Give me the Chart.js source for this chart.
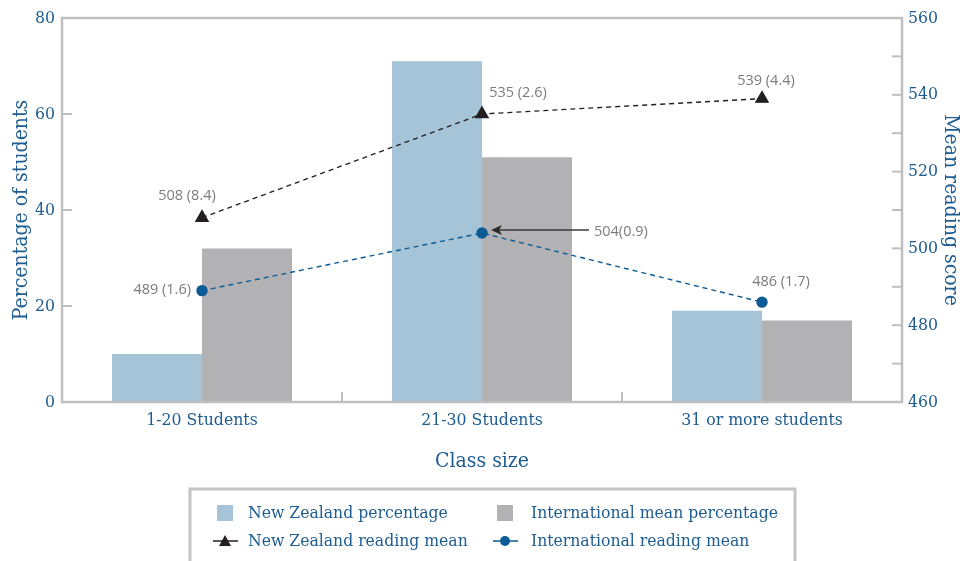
<!DOCTYPE html>
<html><head><meta charset="utf-8">
<script src="https://cdn.jsdelivr.net/npm/chart.js@4.4.1/dist/chart.umd.min.js"></script>
<style>html,body{margin:0;padding:0;background:#fff}#wrap{width:973px;height:561px;position:relative}</style>
</head><body><div id="wrap"><canvas id="c"></canvas></div>
<script>
const categories = ['1-20 Students', '21-30 Students', '31 or more students'];
const nzPercentage = [10, 71, 19];
const intlPercentage = [32, 51, 17];
const nzReadingMean = [508, 535, 539];
const intlReadingMean = [489, 504, 486];
const nzReadingLabels = ['508 (8.4)', '535 (2.6)', '539 (4.4)'];
const intlReadingLabels = ['489 (1.6)', '504(0.9)', '486 (1.7)'];
const percentRange = [0, 80];
const scoreRange = [460, 560];

const BLUE_TEXT = '#1d5c91';
const SERIF = '"DejaVu Serif Condensed", "DejaVu Serif", serif';
const SANS = '"Open Sans", "Noto Sans", sans-serif';
const FRAME = '#bfbfc1';

// label offsets relative to point pixel: [dx, dy, align]
const nzLabelPos = [[-15, -22, 'center'], [36, -21, 'center'], [4, -18, 'center']];
const intlLabelPos = [[-11, -1, 'right'], [112, -1, 'left'], [19, -20, 'center']];

const framePlugin = {
  id: 'frame',
  afterDatasetsDraw(chart) {
    const { ctx, chartArea: a, scales } = chart;
    const ys = scales.y, y2 = scales.y2, xs = scales.x;
    ctx.save();
    ctx.strokeStyle = FRAME;
    ctx.lineWidth = 2.5;
    ctx.strokeRect(a.left, a.top, a.right - a.left, a.bottom - a.top);
    ctx.lineWidth = 2;
    const seg = (x1, y1, x2, yy2) => { ctx.beginPath(); ctx.moveTo(x1, y1); ctx.lineTo(x2, yy2); ctx.stroke(); };
    ys.ticks.forEach(t => {
      if (t.value > ys.min && t.value < ys.max) { const p = ys.getPixelForValue(t.value); seg(a.left, p, a.left + 10, p); }
    });
    const rt = y2.ticks.map(t => t.value);
    for (let i = 0; i < rt.length; i++) {
      if (rt[i] > y2.min && rt[i] < y2.max) { const p = y2.getPixelForValue(rt[i]); seg(a.right, p, a.right - 10, p); }
      if (i < rt.length - 1) { const p = y2.getPixelForValue((rt[i] + rt[i + 1]) / 2); seg(a.right, p, a.right - 10, p); }
    }
    for (let i = 0; i < categories.length - 1; i++) {
      const p = (xs.getPixelForValue(i) + xs.getPixelForValue(i + 1)) / 2;
      seg(p, a.bottom, p, a.bottom - 10);
    }
    // value labels
    ctx.font = '14.5px ' + SANS;
    ctx.fillStyle = '#7c7c7c';
    ctx.textBaseline = 'middle';
    const m2 = chart.getDatasetMeta(2), m3 = chart.getDatasetMeta(3);
    m2.data.forEach((pt, i) => {
      const o = nzLabelPos[i]; ctx.textAlign = o[2];
      ctx.fillText(nzReadingLabels[i], pt.x + o[0], pt.y + o[1]);
    });
    m3.data.forEach((pt, i) => {
      const o = intlLabelPos[i]; ctx.textAlign = o[2];
      ctx.fillText(intlReadingLabels[i], pt.x + o[0], pt.y + o[1]);
    });
    // arrow to the middle international point
    const ap = m3.data[1];
    ctx.strokeStyle = '#3a3a3a'; ctx.fillStyle = '#2a2a2a'; ctx.lineWidth = 1.5;
    const tip = ap.x + 9, ay = ap.y - 3;
    seg(ap.x + 107, ay, tip + 8, ay);
    ctx.beginPath(); ctx.moveTo(tip, ay); ctx.lineTo(tip + 11, ay - 5); ctx.lineTo(tip + 8, ay); ctx.lineTo(tip + 11, ay + 5); ctx.closePath(); ctx.fill();
    ctx.restore();
  },
  afterDraw(chart) {
    const { ctx } = chart;
    ctx.save();
    ctx.strokeStyle = '#c4c4c6'; ctx.lineWidth = 3;
    ctx.strokeRect(190, 489, 605, 100);
    const ds = chart.data.datasets;
    const cols = [225, 505], rows = [513, 541];
    ctx.font = '17.4px ' + SERIF; ctx.textBaseline = 'middle'; ctx.textAlign = 'left';
    ds.forEach((d, i) => {
      const cx = cols[i % 2], cy = rows[Math.floor(i / 2)];
      if (d.type === 'bar') {
        ctx.fillStyle = d.backgroundColor; ctx.fillRect(cx - 8, cy - 8, 16, 16);
      } else {
        ctx.strokeStyle = d.borderColor; ctx.lineWidth = 1.5;
        ctx.beginPath(); ctx.moveTo(cx - 12, cy); ctx.lineTo(cx + 13, cy); ctx.stroke();
        ctx.fillStyle = d.pointBackgroundColor;
        ctx.beginPath();
        if (d.pointStyle === 'triangle') { ctx.moveTo(cx, cy - 6); ctx.lineTo(cx + 6, cy + 5); ctx.lineTo(cx - 6, cy + 5); ctx.closePath(); }
        else { ctx.arc(cx, cy, 5, 0, Math.PI * 2); }
        ctx.fill();
      }
      ctx.fillStyle = BLUE_TEXT;
      ctx.fillText(d.label, cx + 23 + (i % 2 ? 3 : 0), cy);
    });
    ctx.restore();
  }
};

new Chart(document.getElementById('c'), {
  type: 'bar',
  data: {
    labels: categories,
    datasets: [
      { type: 'bar', label: 'New Zealand percentage', data: nzPercentage, backgroundColor: '#a6c4d7', yAxisID: 'y', order: 2, categoryPercentage: 0.643, barPercentage: 1 },
      { type: 'bar', label: 'International mean percentage', data: intlPercentage, backgroundColor: '#b2b2b4', yAxisID: 'y', order: 2, categoryPercentage: 0.643, barPercentage: 1 },
      { type: 'line', label: 'New Zealand reading mean', data: nzReadingMean, yAxisID: 'y2', order: 1, borderColor: '#231f20', borderWidth: 1.4, borderDash: [5, 4], pointStyle: 'triangle', pointRadius: 7, pointBackgroundColor: '#231f20', pointBorderColor: '#231f20', fill: false, tension: 0 },
      { type: 'line', label: 'International reading mean', data: intlReadingMean, yAxisID: 'y2', order: 1, borderColor: '#0d5b94', borderWidth: 1.4, borderDash: [5, 4], pointStyle: 'circle', pointRadius: 5, pointBackgroundColor: '#0d5b94', pointBorderColor: '#0d5b94', fill: false, tension: 0 }
    ]
  },
  options: {
    responsive: true, maintainAspectRatio: false, animation: false, devicePixelRatio: 1,
    layout: { padding: { top: 18, left: 0, right: 0, bottom: 79 } },
    plugins: { legend: { display: false }, tooltip: { enabled: false } },
    scales: {
      x: {
        offset: true,
        grid: { display: false, drawTicks: false }, border: { display: false },
        ticks: { color: BLUE_TEXT, font: { family: SERIF, size: 17.5 }, padding: 8, maxRotation: 0 },
        title: { display: true, text: 'Class size', color: BLUE_TEXT, font: { family: SERIF, size: 21 }, padding: 8 },
        afterFit: s => { s.height = 80; }
      },
      y: {
        position: 'left', min: percentRange[0], max: percentRange[1],
        grid: { display: false, drawTicks: false }, border: { display: false },
        ticks: { stepSize: 20, color: BLUE_TEXT, font: { family: SERIF, size: 17.5 }, padding: 7 },
        title: { display: true, text: 'Percentage of students', color: BLUE_TEXT, font: { family: SERIF, size: 21 }, padding: 9 },
        afterFit: s => { s.width = 62; }
      },
      y2: {
        position: 'right', min: scoreRange[0], max: scoreRange[1],
        grid: { display: false, drawTicks: false }, border: { display: false },
        ticks: { stepSize: 20, color: BLUE_TEXT, font: { family: SERIF, size: 17.5 }, padding: 6 },
        title: { display: true, text: 'Mean reading score', color: BLUE_TEXT, font: { family: SERIF, size: 21 }, padding: 10 },
        afterFit: s => { s.width = 71; }
      }
    }
  },
  plugins: [framePlugin]
});
</script></body></html>
